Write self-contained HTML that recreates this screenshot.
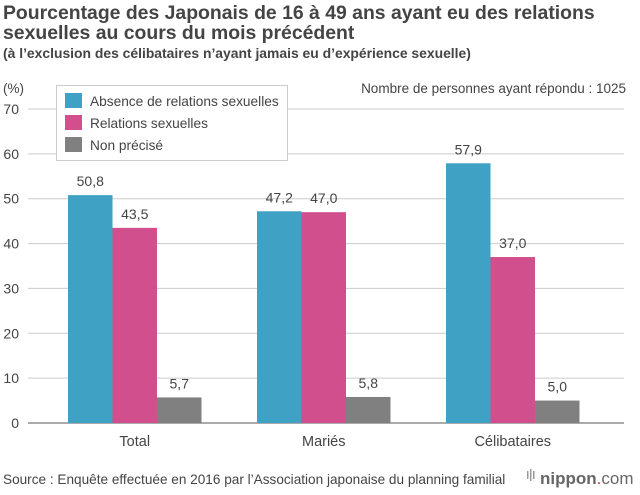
<!DOCTYPE html>
<html><head><meta charset="utf-8"><style>
body{margin:0;background:#fff;font-family:"Liberation Sans",sans-serif;}
</style></head><body>
<svg width="640" height="490" xmlns="http://www.w3.org/2000/svg" font-family="Liberation Sans, sans-serif">
<text x="3" y="19" font-size="19.4" font-weight="bold" fill="#444">Pourcentage des Japonais de 16 à 49 ans ayant eu des relations</text>
<text x="3" y="39" font-size="19.4" font-weight="bold" fill="#444">sexuelles au cours du mois précédent</text>
<text x="3" y="58" font-size="13.9" font-weight="bold" fill="#444">(à l’exclusion des célibataires n’ayant jamais eu d’expérience sexuelle)</text>
<text x="626" y="93" font-size="13.5" fill="#444" text-anchor="end">Nombre de personnes ayant répondu : 1025</text>
<text x="3" y="93" font-size="13.5" fill="#444">(%)</text>
<g id="grid"></g><g id="bars"></g>
<g>
<rect x="56.5" y="85.5" width="231" height="75" fill="#fff" stroke="#ccc"/>
<rect x="65" y="93" width="17" height="15" fill="#3fa1c3"/>
<text x="90" y="106" font-size="13.7" fill="#444">Absence de relations sexuelles</text>
<rect x="65" y="115" width="17" height="15" fill="#d04f8c"/>
<text x="90" y="128" font-size="13.7" fill="#444">Relations sexuelles</text>
<rect x="65" y="137" width="17" height="15" fill="#808080"/>
<text x="90" y="150" font-size="13.7" fill="#444">Non précisé</text>
</g>
<text x="3" y="484" font-size="13.6" fill="#444">Source : Enquête effectuée en 2016 par l’Association japonaise du planning familial</text>
<g>
<rect x="527" y="471" width="1.5" height="8" fill="#999"/><rect x="530" y="469" width="1.5" height="12" fill="#999"/><rect x="533" y="471" width="1.5" height="8" fill="#999"/>
<text x="540" y="484" font-size="17" fill="#666"><tspan font-weight="bold">nippon</tspan><tspan fill="#d33">.</tspan><tspan>com</tspan></text>
</g>
</svg>
<script>
const categories=["Total","Mariés","Célibataires"];
const absence=[50.8,47.2,57.9];
const relations=[43.5,47.0,37.0];
const nonPrecise=[5.7,5.8,5.0];
const ticks=[0,10,20,30,40,50,60,70];
const NS="http://www.w3.org/2000/svg";
const y=v=>423-v*(314/70);
const gx=i=>68+i*189;
const bw=44.5;
function mk(t,a,p){const e=document.createElementNS(NS,t);for(const k in a)e.setAttribute(k,a[k]);p.appendChild(e);return e;}
const grid=document.getElementById('grid'),bars=document.getElementById('bars');
ticks.forEach(t=>{
 const l=mk('line',{x1:28,x2:624,y1:y(t),y2:y(t),stroke:t===0?'#555':'#ccc','stroke-width':1},grid);
 
 
 const tx=mk('text',{x:19,y:y(t)+5,'font-size':14,fill:'#444','text-anchor':'end'},grid);
 tx.textContent=t;
 
 
});
const series=[[absence,'#3fa1c3','absence'],[relations,'#d04f8c','relations'],[nonPrecise,'#808080','non-precise']];
categories.forEach((c,i)=>{
 series.forEach(([arr,col,nm],j)=>{
  const x=gx(i)+j*bw;
  const r=mk('rect',{x:x,y:y(arr[i]),width:bw,height:423-y(arr[i]),fill:col},bars);
  
  
  const t=mk('text',{x:x+bw/2,y:y(arr[i])-9,'font-size':14,fill:'#444','text-anchor':'middle'},bars);
  t.textContent=arr[i].toFixed(1).replace('.',',');
  
  
 });
 const ct=mk('text',{x:gx(i)+bw*1.5,y:446,'font-size':14.5,fill:'#444','text-anchor':'middle'},bars);
 ct.textContent=c;
 
 
});
bars.parentNode.appendChild(grid.lastChild);
</script>
</body></html>
